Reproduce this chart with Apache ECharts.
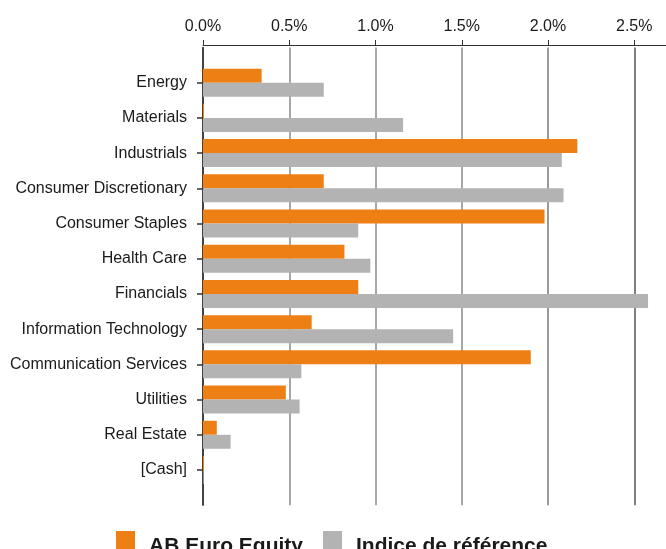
<!DOCTYPE HTML>
<html>
<head>
	<meta http-equiv="Content-Type" content="text/html; charset=utf-8">
	<title>Répartition sectorielle</title>
	<style>
		body, html { margin: 0; padding: 0; width: 100%; height: 100%; background: #fff; }
		#main { width: 666px; height: 549px; }
	</style>
	<script src="https://cdn.jsdelivr.net/npm/echarts@6/dist/echarts.min.js"></script>
</head>
<body>
	<div id="main"></div>
	<script>
		// secteurs, de haut en bas
		var categories = ['Energy', 'Materials', 'Industrials', 'Consumer Discretionary', 'Consumer Staples',
			'Health Care', 'Financials', 'Information Technology', 'Communication Services',
			'Utilities', 'Real Estate', '[Cash]'];
		var fundName = 'AB Euro Equity';
		var benchName = 'Indice de référence';
		var fundValues = [0.34, 0.006, 2.17, 0.70, 1.98, 0.82, 0.90, 0.63, 1.90, 0.48, 0.08, 0.006];
		var benchValues = [0.70, 1.16, 2.08, 2.09, 0.90, 0.97, 2.58, 1.45, 0.57, 0.56, 0.16, 0.004];
		var xTicks = [0, 0.5, 1.0, 1.5, 2.0, 2.5];

		// une bande vide en haut et en bas
		var cats = [''].concat(categories, ['']);
		function pad(arr) { return ['-'].concat(arr, ['-']); }

		var myChart = echarts.init(document.getElementById('main'));
		myChart.setOption({
			animation: false,
			textStyle: { fontFamily: 'Liberation Sans, Arial, sans-serif' },
			grid: { left: 203, right: 0, top: 47.5, bottom: 43.8, containLabel: false },
			legend: {
				top: 531,
				left: 116,
				padding: 0,
				icon: 'rect',
				itemWidth: 19,
				itemHeight: 19,
				itemGap: 20,
				formatter: function (name) { return '{t|' + name + '}'; },
				textStyle: {
					rich: {
						t: { fontSize: 21, fontWeight: 'bold', color: '#1a1a1a', padding: [12, 0, 0, 9] }
					}
				},
				data: [fundName, benchName]
			},
			xAxis: {
				type: 'value',
				position: 'top',
				offset: 2.5,
				min: 0,
				max: 2.684,
				interval: 0.5,
				axisLine: { show: true, lineStyle: { color: '#333', width: 1 } },
				axisTick: { show: true, length: 5, lineStyle: { color: '#333' } },
				axisLabel: {
					margin: 10,
					fontSize: 16,
					color: '#1a1a1a',
					showMaxLabel: false,
					formatter: function (v) { return xTicks.indexOf(v) >= 0 ? v.toFixed(1) + '%' : ''; }
				},
				splitLine: {
					show: true,
					lineStyle: { color: ['#444', '#8a8a8a', '#8a8a8a', '#8a8a8a', '#777', '#555', 'rgba(0,0,0,0)'], width: 1.5 }
				}
			},
			yAxis: {
				type: 'category',
				inverse: true,
				boundaryGap: false,
				data: cats,
				axisLine: { show: true, lineStyle: { color: '#333', width: 1.5 } },
				axisTick: {
					show: true,
					length: 6,
					interval: function (i) { return i > 0 && i < cats.length - 1; },
					lineStyle: { color: '#333', width: 1.5 }
				},
				axisLabel: { margin: 16, fontSize: 16, color: '#1a1a1a', interval: 0 }
			},
			series: [
				{
					name: fundName,
					type: 'bar',
					barWidth: 14,
					barGap: 0,
					itemStyle: { color: '#EE7F14' },
					data: pad(fundValues)
				},
				{
					name: benchName,
					type: 'bar',
					barWidth: 14,
					barGap: 0,
					itemStyle: { color: '#B3B3B3' },
					data: pad(benchValues)
				}
			]
		});
	</script>
</body>
</html>
